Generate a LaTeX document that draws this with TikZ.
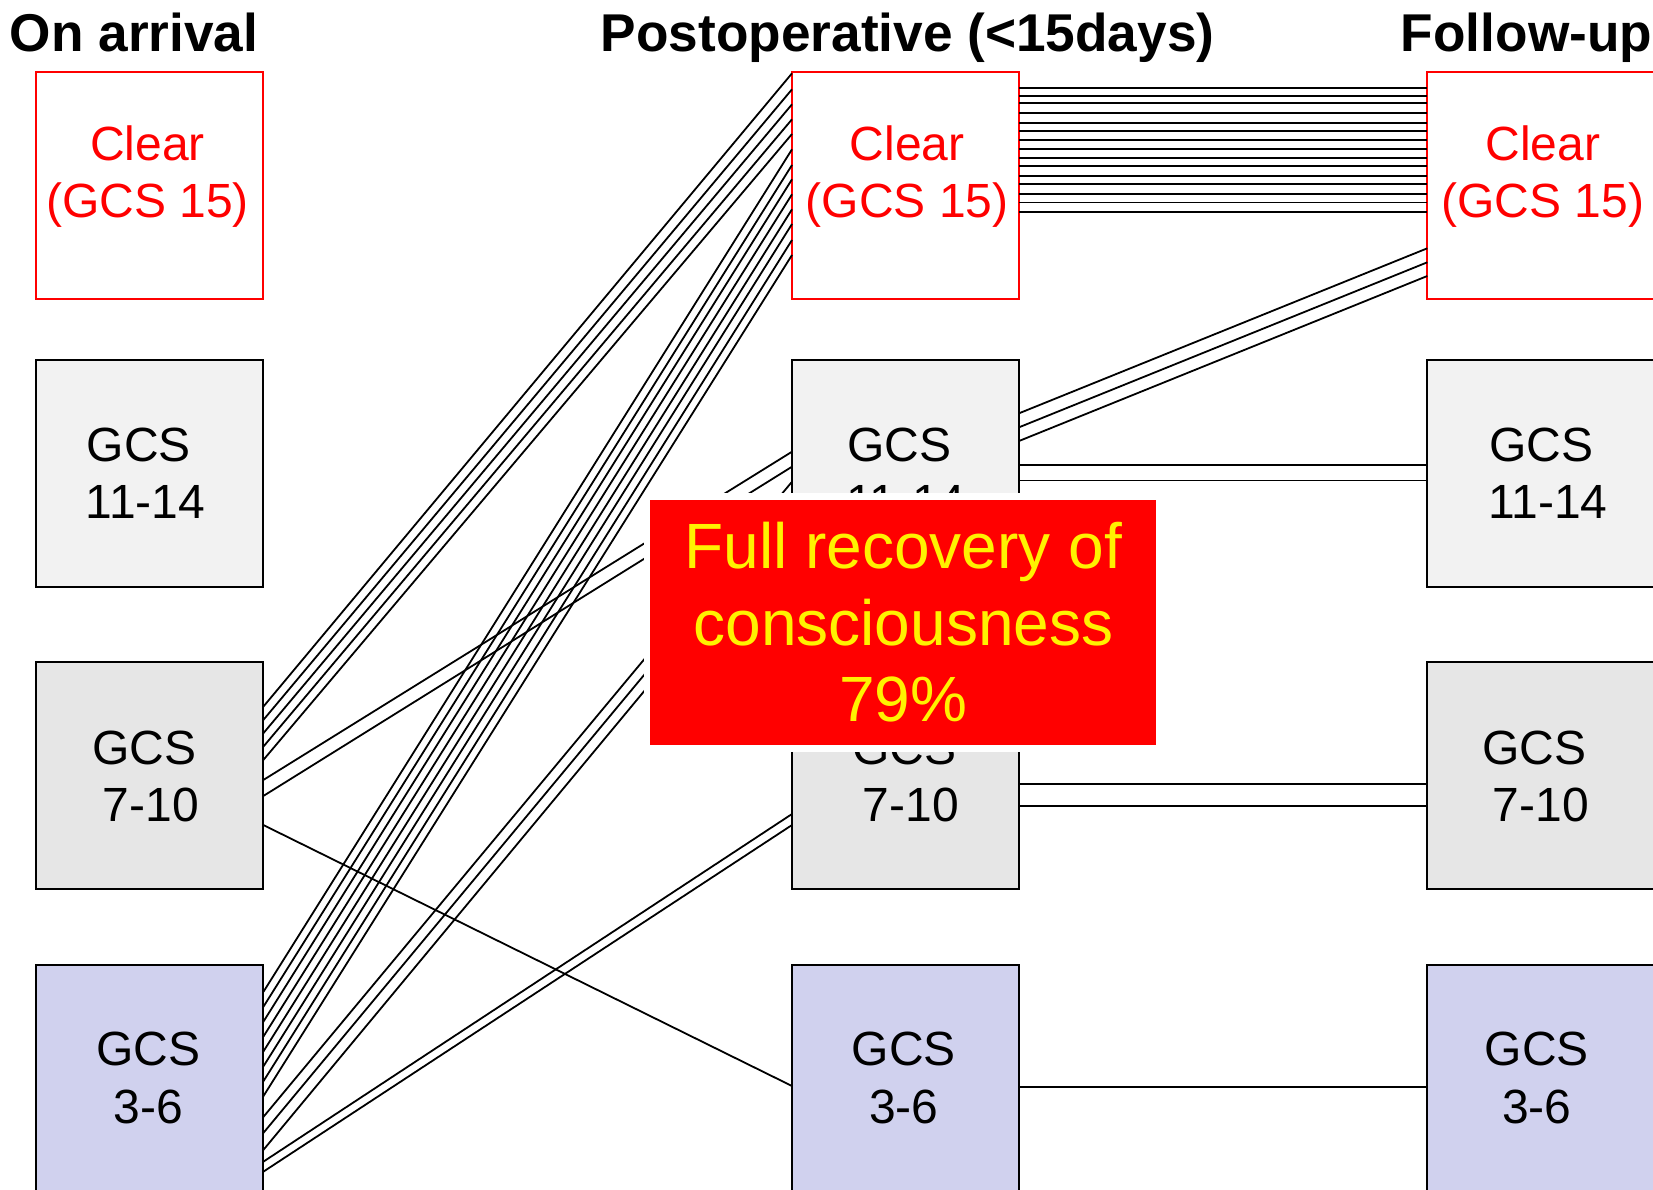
\documentclass[tikz,border=0pt]{standalone}
\usepackage{fontspec}
\setmainfont{Liberation Sans}
\definecolor{rowtwo}{HTML}{F2F2F2}
\definecolor{rowthree}{HTML}{E6E6E6}
\definecolor{rowfour}{HTML}{D0D1EE}
\begin{document}
\begin{tikzpicture}[x=0.5pt,y=-0.5pt,
  box/.style={draw=black, line width=1pt, minimum width=113.5pt, minimum height=113.5pt, inner sep=0pt, outer sep=0pt},
  clearbox/.style={box, draw=red, fill=white},
  boxtwo/.style={box, fill=rowtwo},
  boxthree/.style={box, fill=rowthree},
  boxfour/.style={box, fill=rowfour},
  lbl/.style={font=\fontsize{24pt}{28.75pt}\selectfont, align=center, inner sep=0pt, text=black},
  redlbl/.style={lbl, text=red},
  conn/.style={line width=0.9pt, draw=black},
  title/.style={font=\fontsize{26.6pt}{30pt}\selectfont\bfseries, anchor=base west, inner sep=0pt},
  recov/.style={fill=red, draw=white, line width=3.25pt, minimum width=256.25pt, minimum height=126pt, text=yellow, font=\fontsize{32pt}{38.25pt}\selectfont, align=center, inner sep=0pt}
]
\clip (0,0) rectangle (1653,1189);
\fill[white] (0,0) rectangle (1653,1189);

% titles
\node[title] (h1) at (9.5,51.7) {On arrival};
\node[title] (h2) at (600.5,51.7) {Postoperative (<15days)};
\node[title] (h3) at (1400.5,51.7) {Follow-up};

% boxes
\node[clearbox] (c1r1) at (149.8,185.8) {};
\node[boxtwo]   (c1r2) at (149.8,473.1) {};
\node[boxthree] (c1r3) at (149.8,775.5) {};
\node[boxfour]  (c1r4) at (149.8,1078.5) {};
\node[clearbox] (c2r1) at (905.5,185.8) {};
\node[boxtwo]   (c2r2) at (905.5,473.1) {};
\node[boxthree] (c2r3) at (905.5,775.5) {};
\node[boxfour]  (c2r4) at (905.5,1078.5) {};
\node[clearbox] (c3r1) at (1540.8,185.8) {};
\node[boxtwo]   (c3r2) at (1540.8,473.1) {};
\node[boxthree] (c3r3) at (1540.8,775.5) {};
\node[boxfour]  (c3r4) at (1540.8,1078.5) {};

% box texts
\node[redlbl] (t11) at (147.5,176.5) {Clear\\(GCS 15)};
\node[lbl] (t12) at (145.5,473.25) {GCS\kern6.65pt\\11-14};
\node[lbl] (t13) at (151,776.3) {GCS\kern6.65pt\\7-10};
\node[lbl] (t14) at (148.4,1078) {GCS\\3-6};
\node[redlbl] (t21) at (907.2,176.5) {Clear\\(GCS 15)};
\node[lbl] (t22) at (906,473.25) {GCS\kern6.65pt\\11-14};
\node[lbl] (t23) at (911,776.3) {GCS\kern6.65pt\\7-10};
\node[lbl] (t24) at (903.8,1078) {GCS\\3-6};
\node[redlbl] (t31) at (1543,176.5) {Clear\\(GCS 15)};
\node[lbl] (t32) at (1548,473.25) {GCS\kern6.65pt\\11-14};
\node[lbl] (t33) at (1541,776.3) {GCS\kern6.65pt\\7-10};
\node[lbl] (t34) at (1536.7,1078) {GCS\\3-6};

% on arrival -> postoperative
\foreach \a/\b in {706.7/73.3,720/89.3,733.3/104.3,746.7/119.3,760/134}
  \draw[conn] (c1r3.east |- 0,\a) -- (c2r1.west |- 0,\b);
\foreach \a/\b in {992/149.3,1006.9/165,1021.8/179.3,1036.7/194.3,1051.6/209.3,1066.5/224,1081.4/240,1096.3/255}
  \draw[conn] (c1r4.east |- 0,\a) -- (c2r1.west |- 0,\b);
\foreach \a/\b in {1117/481.7,1133/497,1150/513}
  \draw[conn] (c1r4.east |- 0,\a) -- (c2r2.west |- 0,\b);
\foreach \a/\b in {780/451.7,796/466.7}
  \draw[conn] (c1r3.east |- 0,\a) -- (c2r2.west |- 0,\b);
\foreach \a/\b in {1161.7/814,1171.7/825}
  \draw[conn] (c1r4.east |- 0,\a) -- (c2r3.west |- 0,\b);
\draw[conn] (c1r3.east |- 0,825) -- (c2r4.west |- 0,1086);

% postoperative -> follow-up
\foreach \y in {88,95.7,103.3,112.6,123,131,140,149.3,157.7,166.3,176,184.3,194,202.5,211.6}
  \draw[conn] (c2r1.east |- 0,\y) -- (c3r1.west |- 0,\y);
\foreach \a/\b in {413.3/248.3,427.3/262.3,441/276}
  \draw[conn] (c2r2.east |- 0,\a) -- (c3r1.west |- 0,\b);
\foreach \y in {465,480.5}
  \draw[conn] (c2r2.east |- 0,\y) -- (c3r2.west |- 0,\y);
\foreach \y in {784,806}
  \draw[conn] (c2r3.east |- 0,\y) -- (c3r3.west |- 0,\y);
\draw[conn] (c2r4.east |- 0,1086.7) -- (c3r4.west |- 0,1086.7);

% highlight
\node[recov] (rec) at (903.4,622.5) {Full recovery of\\consciousness\\79\%};
\end{tikzpicture}
\end{document}
